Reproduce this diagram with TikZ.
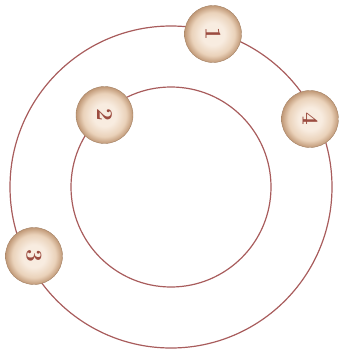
\documentclass[tikz,border=0pt]{standalone}
\usepackage{xcolor}
\usepackage{tikz}
\usetikzlibrary{calc}
\definecolor{ringcol}{RGB}{168,92,92}
\definecolor{ballin}{RGB}{248,236,224}
\definecolor{ballmid}{RGB}{234,210,186}
\definecolor{ballout}{RGB}{192,152,118}
\definecolor{numcol}{RGB}{156,76,64}
\pgfdeclareradialshading{ballshade}{\pgfpointorigin}{color(0bp)=(ballin); color(10bp)=(ballin); color(19bp)=(ballmid); color(25bp)=(ballout); color(50bp)=(ballout)}
\tikzstyle{ring} = [draw=ringcol, line width=0.9pt]
\tikzstyle{ball} = [circle, minimum size=42.75pt, inner sep=0pt, shading=ballshade, draw=ballout!85!black, line width=0.3pt, rotate=-90, text=numcol, font=\fontsize{17}{20}\selectfont\bfseries]

\begin{document}
\begin{tikzpicture}[x=0.75pt, y=-0.75pt]
\useasboundingbox (0,0) rectangle (343,360);

% Orbits
\coordinate (ctr) at (171,187);
\draw [ring] (ctr) circle [radius=161];
\draw [ring] (ctr) circle [radius=100];

% Balls
\node (b1) [ball] at (213,34) {1};
\node (b2) [ball] at (104.5,115) {2};
\node (b3) [ball] at (34,256) {3};
\node (b4) [ball] at (310,119) {4};

\end{tikzpicture}
\end{document}
